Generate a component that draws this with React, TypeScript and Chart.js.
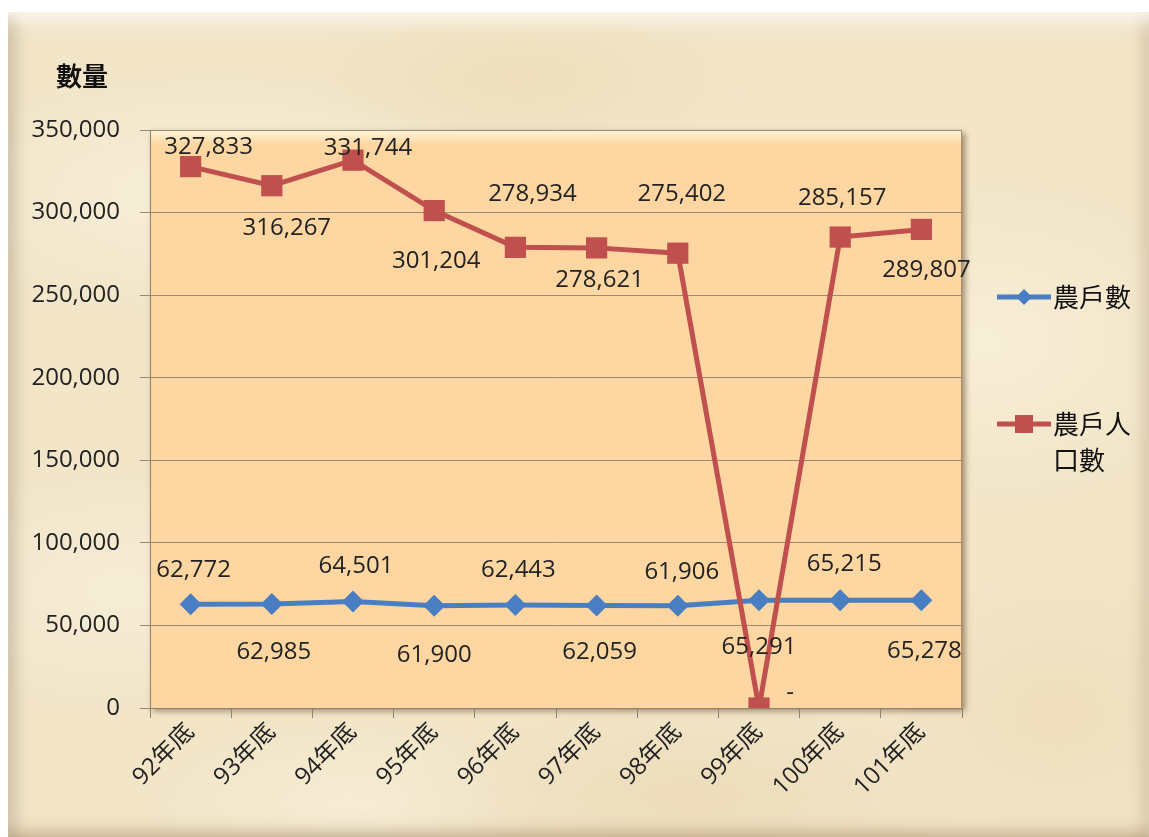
import React, { useEffect, useRef } from 'react';
import { Chart, registerables } from 'chart.js';

Chart.register(...registerables);

// ---- data ----
const categories = ['92年底', '93年底', '94年底', '95年底', '96年底', '97年底', '98年底', '99年底', '100年底', '101年底'];
const householdCounts = [62772, 62985, 64501, 61900, 62443, 62059, 61906, 65291, 65215, 65278];
const populationCounts = [327833, 316267, 331744, 301204, 278934, 278621, 275402, 0, 285157, 289807];
const yTickValues = [0, 50000, 100000, 150000, 200000, 250000, 300000, 350000];
const householdName = '農戶數';
const populationNameLines = ['農戶人', '口數'];
const axisTitle = '數量';

// ---- label placement (offsets relative to each point, px) ----
const householdLabelOffsets = [[3, -34], [2, 48], [3, -35], [0, 49], [3, -35], [3, 47], [4, -34], [0, 47], [4, -36], [3, 51]];
const populationLabelOffsets = [[18, -19], [15, 42], [15, -12], [2, 51], [17, -53], [3, 32], [4, -59], [31, -15], [2, -39], [5, 41]];

const BLUE = '#4a7ec3';
const RED = '#c0504d';
const FONT = "'Open Sans', 'Noto Sans CJK TC', sans-serif";
const CJK = "'Noto Sans CJK TC', 'Open Sans', sans-serif";

const fmt = (v: number) => (v === 0 ? '-' : v.toLocaleString('en-US'));

const plotBgPlugin = {
  id: 'plotBg',
  beforeDraw(chart: any) {
    const { ctx, chartArea: a } = chart;
    ctx.save();
    ctx.shadowColor = 'rgba(90,60,30,0.55)';
    ctx.shadowBlur = 6;
    ctx.shadowOffsetX = 3;
    ctx.shadowOffsetY = 3;
    ctx.fillStyle = '#fdd6a2';
    ctx.fillRect(a.left, a.top, a.right - a.left, a.bottom - a.top);
    ctx.restore();
    ctx.save();
    const g = ctx.createLinearGradient(0, a.top, 0, a.top + 14);
    g.addColorStop(0, 'rgba(255,250,225,0.95)');
    g.addColorStop(1, 'rgba(255,250,225,0)');
    ctx.fillStyle = g;
    ctx.fillRect(a.left, a.top, a.right - a.left, 14);
    ctx.strokeStyle = 'rgba(120,90,60,0.6)';
    ctx.lineWidth = 1;
    ctx.beginPath();
    ctx.moveTo(a.right - 0.5, a.top);
    ctx.lineTo(a.right - 0.5, a.bottom);
    ctx.stroke();
    ctx.restore();
  },
};

const labelsPlugin = {
  id: 'valueLabels',
  afterDatasetsDraw(chart: any) {
    const { ctx } = chart;
    ctx.save();
    ctx.font = `24px ${FONT}`;
    ctx.fillStyle = '#222';
    ctx.textAlign = 'center';
    ctx.textBaseline = 'middle';
    chart.data.datasets.forEach((ds: any, di: number) => {
      const meta = chart.getDatasetMeta(di);
      const offs = ds.labelOffsets as number[][];
      meta.data.forEach((pt: any, i: number) => {
        const [dx, dy] = offs[i];
        ctx.fillText(fmt(ds.data[i]), pt.x + dx, pt.y + dy);
      });
    });
    ctx.restore();
  },
};

const extrasPlugin = {
  id: 'extras',
  afterDraw(chart: any) {
    const { ctx, chartArea: a } = chart;
    ctx.save();
    // axis title
    ctx.font = `bold 26px ${CJK}`;
    ctx.fillStyle = '#111';
    ctx.textAlign = 'center';
    ctx.textBaseline = 'middle';
    ctx.fillText(axisTitle, a.left - 68, a.top - 54);

    // legend
    const lx = a.right + 35;
    const drawItem = (y: number, color: string, marker: 'diamond' | 'square', lines: string[]) => {
      ctx.strokeStyle = color;
      ctx.lineWidth = 5;
      ctx.beginPath();
      ctx.moveTo(lx, y);
      ctx.lineTo(lx + 54, y);
      ctx.stroke();
      ctx.fillStyle = color;
      const cx = lx + 27;
      if (marker === 'diamond') {
        ctx.beginPath();
        ctx.moveTo(cx, y - 8);
        ctx.lineTo(cx + 8, y);
        ctx.lineTo(cx, y + 8);
        ctx.lineTo(cx - 8, y);
        ctx.closePath();
        ctx.fill();
      } else {
        ctx.fillRect(cx - 9, y - 9, 18, 18);
      }
      ctx.fillStyle = '#111';
      ctx.font = `26px ${CJK}`;
      ctx.textAlign = 'left';
      lines.forEach((t, k) => ctx.fillText(t, lx + 56, y + k * 36));
    };
    drawItem(a.top + 167, BLUE, 'diamond', [householdName]);
    drawItem(a.top + 294, RED, 'square', populationNameLines);
    ctx.restore();
  },
};

export default function App() {
  const ref = useRef<HTMLCanvasElement | null>(null);

  useEffect(() => {
    if (!ref.current) return;
    const chart = new Chart(ref.current, {
      type: 'line',
      data: {
        labels: categories,
        datasets: [
          {
            label: householdName,
            data: householdCounts,
            borderColor: BLUE,
            backgroundColor: BLUE,
            borderWidth: 5,
            pointStyle: 'rectRot',
            pointRadius: 11,
            pointBorderWidth: 0,
            tension: 0,
            order: 1,
            labelOffsets: householdLabelOffsets,
          } as any,
          {
            label: populationNameLines.join(''),
            data: populationCounts,
            borderColor: RED,
            backgroundColor: RED,
            borderWidth: 5,
            pointStyle: 'rect',
            pointRadius: 15,
            pointBorderWidth: 0,
            tension: 0,
            order: 0,
            labelOffsets: populationLabelOffsets,
          } as any,
        ],
      },
      options: {
        animation: false,
        responsive: false,
        layout: { padding: { left: 0, right: 187, top: 130, bottom: 0 } },
        plugins: {
          legend: { display: false },
          tooltip: { enabled: false },
          title: { display: false },
        },
        scales: {
          x: {
            offset: true,
            grid: {
              display: true,
              drawOnChartArea: false,
              drawTicks: true,
              tickLength: 10,
              color: '#8c8070',
              offset: true,
            },
            border: { display: true, color: '#8c8070', width: 1 },
            ticks: {
              minRotation: 45,
              maxRotation: 45,
              padding: 0,
              color: '#222',
              font: { family: FONT, size: 24 },
            },
            afterFit(scale: any) {
              scale.height = 129;
            },
          },
          y: {
            min: 0,
            max: 350000,
            afterBuildTicks(scale: any) {
              scale.ticks = yTickValues.map((v) => ({ value: v }));
            },
            grid: {
              color: '#9a8a74',
              lineWidth: 1,
              tickLength: 10,
            },
            border: { display: true, color: '#8c8070', width: 1 },
            ticks: {
              padding: 20,
              color: '#222',
              font: { family: FONT, size: 24 },
              callback: (v: any) => Number(v).toLocaleString('en-US'),
            },
            afterFit(scale: any) {
              scale.width = 150;
            },
          },
        },
      },
      plugins: [plotBgPlugin, labelsPlugin, extrasPlugin],
    });
    return () => chart.destroy();
  }, []);

  const parchment: React.CSSProperties = {
    position: 'absolute',
    left: 8,
    top: 12,
    width: 1141,
    height: 825,
    backgroundColor: '#f2e5c8',
    backgroundImage: [
      'radial-gradient(ellipse 300px 120px at 18% 22%, rgba(255,252,238,0.45), rgba(255,252,238,0) 100%)',
      'radial-gradient(ellipse 260px 160px at 85% 40%, rgba(255,250,232,0.45), rgba(255,250,232,0) 100%)',
      'radial-gradient(ellipse 220px 90px at 45% 8%, rgba(226,200,150,0.25), rgba(226,200,150,0) 100%)',
      'radial-gradient(ellipse 240px 120px at 10% 70%, rgba(255,252,240,0.35), rgba(255,252,240,0) 100%)',
      'radial-gradient(ellipse 300px 100px at 60% 95%, rgba(225,200,155,0.3), rgba(225,200,155,0) 100%)',
      'radial-gradient(ellipse 180px 140px at 92% 85%, rgba(230,205,160,0.3), rgba(230,205,160,0) 100%)',
      'radial-gradient(ellipse 200px 80px at 30% 96%, rgba(255,250,235,0.35), rgba(255,250,235,0) 100%)',
    ].join(','),
    boxShadow: [
      'inset 0 16px 18px -8px rgba(255,255,250,0.9)',
      'inset 14px 0 16px -8px rgba(120,100,75,0.35)',
      'inset -14px 0 16px -8px rgba(150,120,80,0.3)',
      'inset 0 -14px 16px -8px rgba(140,110,70,0.35)',
    ].join(','),
  };

  return (
    <div style={{ position: 'absolute', left: 0, top: 0, width: 1149, height: 837, background: '#ffffff', overflow: 'hidden' }}>
      <div style={parchment} />
      <canvas ref={ref} width={1149} height={837} style={{ position: 'absolute', left: 0, top: 0, width: 1149, height: 837 }} />
    </div>
  );
}
